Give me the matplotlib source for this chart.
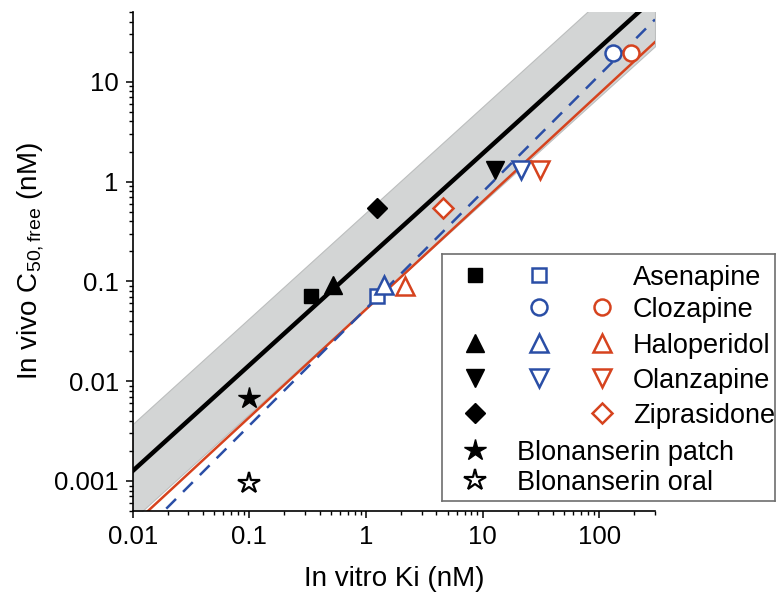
import numpy as np
import matplotlib
matplotlib.use("Agg")
import matplotlib.pyplot as plt
from matplotlib.ticker import LogLocator, FuncFormatter, NullFormatter

plt.rcParams['font.family'] = ['Liberation Sans', 'DejaVu Sans']
plt.rcParams['mathtext.fontset'] = 'custom'
plt.rcParams['mathtext.rm'] = 'Liberation Sans'
plt.rcParams['mathtext.it'] = 'Liberation Sans:italic'

# ---------------- data ----------------
black_drugs = ['Asenapine', 'Haloperidol', 'Olanzapine', 'Ziprasidone']
black_ki = [0.34, 0.52, 12.8, 1.24]
black_c50 = [0.072, 0.091, 1.32, 0.54]

blue_drugs = ['Asenapine', 'Clozapine', 'Haloperidol', 'Olanzapine']
blue_ki = [1.25, 132, 1.44, 21.3]
blue_c50 = [0.071, 19.4, 0.091, 1.32]

red_drugs = ['Clozapine', 'Haloperidol', 'Olanzapine', 'Ziprasidone']
red_ki = [188, 2.16, 31.1, 4.6]
red_c50 = [19.4, 0.089, 1.32, 0.54]

blonanserin_labels = ['Blonanserin patch', 'Blonanserin oral']
blonanserin_ki = [0.1, 0.1]
blonanserin_c50 = [0.0068, 0.00095]

legend_drugs = ['Asenapine', 'Clozapine', 'Haloperidol', 'Olanzapine', 'Ziprasidone']
drug_markers = {'Asenapine': 's', 'Clozapine': 'o', 'Haloperidol': '^',
                'Olanzapine': 'v', 'Ziprasidone': 'D'}

# fitted lines (end points at x limits)
fit_ki = [0.01, 300]
black_fit_c50 = [0.00126, 70.2]
band_upper_c50 = [0.00372, 207]
band_lower_c50 = [0.00041, 22.7]
red_fit_c50 = [0.000361, 25.0]
blue_fit_c50 = [0.000243, 42.1]

x_ticks = [0.01, 0.1, 1, 10, 100]
y_ticks = [0.001, 0.01, 0.1, 1, 10]

BLUE = '#2a4ea6'
RED = '#d6431e'

# ---------------- figure ----------------
W, H = 777, 598
fig = plt.figure(figsize=(W / 100, H / 100), dpi=100)
ax = fig.add_axes([132.7 / W, 1 - 511 / H, (655 - 132.7) / W, (511 - 12) / H])
ax.set_xscale('log')
ax.set_yscale('log')

ax.fill_between(fit_ki, band_lower_c50, band_upper_c50, facecolor='#d3d5d5',
                edgecolor='#bcbebe', linewidth=0.8, zorder=1)
ax.plot(fit_ki, red_fit_c50, color=RED, lw=1.8, zorder=2)
ax.plot(fit_ki, blue_fit_c50, color=BLUE, lw=1.8, ls=(0, (5.5, 4)), zorder=2)
ax.plot(fit_ki, black_fit_c50, color='black', lw=3.2, zorder=2)

msize = {'s': 10, 'o': 11.5, '^': 13, 'v': 13, 'D': 10}
star_ms = 16

for d, x, y in zip(black_drugs, black_ki, black_c50):
    m = drug_markers[d]
    ax.plot([x], [y], ls='none', marker=m, ms=msize[m], color='black', zorder=3)
for d, x, y in zip(blue_drugs, blue_ki, blue_c50):
    m = drug_markers[d]
    ax.plot([x], [y], ls='none', marker=m, ms=msize[m], mfc='white', mec=BLUE,
            mew=1.8, zorder=3)
for d, x, y in zip(red_drugs, red_ki, red_c50):
    m = drug_markers[d]
    ax.plot([x], [y], ls='none', marker=m, ms=msize[m], mfc='white', mec=RED,
            mew=1.8, zorder=3)
ax.plot([blonanserin_ki[0]], [blonanserin_c50[0]], ls='none', marker='*', ms=star_ms,
        color='black', zorder=3)
ax.plot([blonanserin_ki[1]], [blonanserin_c50[1]], ls='none', marker='*', ms=star_ms,
        mfc='white', mec='black', mew=1.6, zorder=3)

for s in ['top', 'right']:
    ax.spines[s].set_visible(False)
for s in ['left', 'bottom']:
    ax.spines[s].set_linewidth(1.2)

fmt = FuncFormatter(lambda v, p: '%g' % v)
ax.set_xticks(x_ticks)
ax.set_yticks(y_ticks)
ax.xaxis.set_major_formatter(fmt)
ax.yaxis.set_major_formatter(fmt)
ax.xaxis.set_minor_locator(LogLocator(base=10, subs=np.arange(2, 10), numticks=20))
ax.yaxis.set_minor_locator(LogLocator(base=10, subs=np.arange(2, 10), numticks=20))
ax.xaxis.set_minor_formatter(NullFormatter())
ax.yaxis.set_minor_formatter(NullFormatter())
ax.set_xlim(0.01, 300)
ax.set_ylim(0.0005, 50)
ax.tick_params(which='major', length=5, width=1.1, direction='out', labelsize=18.5, pad=5)
ax.tick_params(which='minor', length=3.2, width=1.0, direction='out')

ax.set_xlabel('In vitro Ki (nM)', fontsize=20, labelpad=12)
ax.set_ylabel(r'In vivo C$_{\mathrm{50,free}}$ (nM)', fontsize=20, labelpad=6)

# ---------------- legend box ----------------
L, T, R, B = 442, 254, 775, 501
lax = fig.add_axes([L / W, 1 - B / H, (R - L) / W, (B - T) / H])
lax.set_xlim(0, R - L)
lax.set_ylim(B - T, 0)
lax.set_xticks([])
lax.set_yticks([])
lax.set_facecolor('white')
for s in lax.spines.values():
    s.set_color('#6e6e6e')
    s.set_linewidth(1.2)

row_y = [21, 53, 89, 124, 159, 196, 226]
col_x = [33, 97, 160]
text_x = 191
lfs = 19.5
for i, d in enumerate(legend_drugs):
    m = drug_markers[d]
    y = row_y[i]
    if d in black_drugs:
        lax.plot([col_x[0]], [y], ls='none', marker=m, ms=msize[m], color='black')
    if d in blue_drugs:
        lax.plot([col_x[1]], [y], ls='none', marker=m, ms=msize[m], mfc='white',
                 mec=BLUE, mew=1.8)
    if d in red_drugs:
        lax.plot([col_x[2]], [y], ls='none', marker=m, ms=msize[m], mfc='white',
                 mec=RED, mew=1.8)
    lax.text(text_x, y + 10, d, fontsize=lfs, va='baseline', ha='left')

lax.plot([col_x[0]], [row_y[5]], ls='none', marker='*', ms=star_ms, color='black')
lax.plot([col_x[0]], [row_y[6]], ls='none', marker='*', ms=star_ms, mfc='white',
         mec='black', mew=1.6)
lax.text(75, row_y[5] + 10, blonanserin_labels[0], fontsize=lfs, va='baseline', ha='left')
lax.text(75, row_y[6] + 10, blonanserin_labels[1], fontsize=lfs, va='baseline', ha='left')

fig.savefig('out.png', dpi=100)
